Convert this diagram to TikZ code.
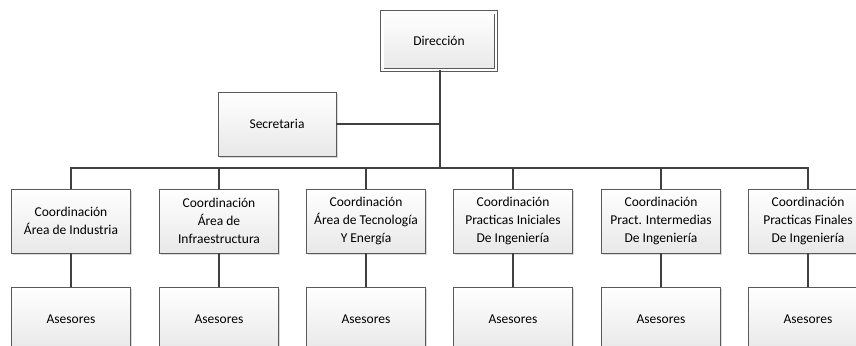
\documentclass[tikz,border=0pt]{standalone}
\usepackage{fontspec}
\setmainfont{Carlito}
\usetikzlibrary{shadows}
\definecolor{edge}{HTML}{5A5A5A}
\definecolor{wire}{HTML}{404040}
\begin{document}
\begin{tikzpicture}[x=1bp,y=-1bp,
  orgbox/.style={draw=edge, line width=0.9bp, top color=white, bottom color=black!9,
    minimum width=119bp, minimum height=64bp, inner sep=2bp, align=center,
    font=\fontsize{13.5bp}{18bp}\selectfont,
    drop shadow={shadow xshift=1.8bp, shadow yshift=-1.8bp, opacity=0.25, fill=black!60}},
  headbox/.style={orgbox, double=white, double distance=2.6bp, line width=0.9bp,
    minimum width=113.6bp, minimum height=57.6bp},
  wire/.style={draw=wire, line width=1.5bp}]
\useasboundingbox (0,0) rectangle (856,345);
\clip (0,0) rectangle (856,345);

% top of the chart
\node[headbox] (dir) at (439,41) {Dirección};
\node[orgbox, minimum width=118bp] (sec) at (277,124) {Secretaria};
\coordinate (bus) at (440,168);

% coordination units
\node[orgbox] (c1) at (71,221)  {Coordinación\\Área de Industria};
\node[orgbox] (c2) at (219,221) {Coordinación\\Área de\\Infraestructura};
\node[orgbox] (c3) at (366,221) {Coordinación\\Área de Tecnología\\Y Energía};
\node[orgbox] (c4) at (513,221) {Coordinación\\Practicas Iniciales\\De Ingeniería};
\node[orgbox] (c5) at (661,221) {Coordinación\\Pract. Intermedias\\De Ingeniería};
\node[orgbox] (c6) at (808,221) {Coordinación\\Practicas Finales\\De Ingeniería};

% advisers under each unit
\foreach \i/\x in {1/71,2/219,3/366,4/513,5/661,6/808}
  \node[orgbox] (a\i) at (\x,319) {Asesores};

% connectors
\draw[wire] (dir.south -| bus) -- (bus);
\draw[wire] (sec.east) -- (sec.east -| bus);
\draw[wire] (c1.north) -- (c1.north |- bus) -- (c6.north |- bus) -- (c6.north);
\foreach \i in {2,3,4,5}
  \draw[wire] (c\i.north) -- (c\i.north |- bus);
\foreach \i in {1,...,6}
  \draw[wire] (c\i.south) -- (a\i.north);
\end{tikzpicture}
\end{document}
